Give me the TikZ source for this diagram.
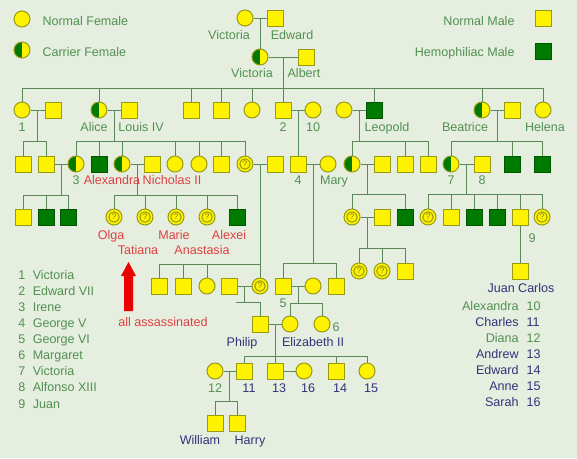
\documentclass[tikz,border=0pt]{standalone}
\usepackage{fontspec}
\setmainfont{Liberation Sans}
\usetikzlibrary{calc}

\definecolor{bgcol}{RGB}{230,238,224}
\definecolor{linecol}{RGB}{90,135,90}
\definecolor{edgecol}{RGB}{150,155,20}
\definecolor{hemocol}{RGB}{0,122,0}
\definecolor{txtgreen}{RGB}{80,145,80}
\definecolor{txtred}{RGB}{220,65,65}
\definecolor{txtnavy}{RGB}{50,50,120}
\definecolor{arrowred}{RGB}{235,0,0}

\tikzset{
  fem/.style={circle, draw=edgecol, fill=yellow, minimum size=12pt, inner sep=0pt},
  male/.style={rectangle, draw=edgecol, fill=yellow, minimum size=12pt, inner sep=0pt},
  hemo/.style={male, draw=hemocol!70!black, fill=hemocol},
  carrier/.style={fem, path picture={\fill[hemocol] (path picture bounding box.south west) rectangle (path picture bounding box.north);}},
  unk/.style={fem, font=\fontsize{6}{6}\selectfont, text=edgecol!80!black,
    path picture={\draw[edgecol] (path picture bounding box.center) circle (3.9pt);}},
  lbl/.style={inner sep=0pt, text height=6.8pt, text depth=0pt, text=txtgreen},
  redlbl/.style={lbl, text=txtred},
  navylbl/.style={lbl, text=txtnavy},
  link/.style={draw=linecol}
}

\begin{document}
\begin{tikzpicture}[x=0.75pt, y=-0.75pt, line width=0.75pt, font=\fontsize{9.4}{12.1}\selectfont]
      \fill[bgcol] (0,0) rectangle (577,458); % background

      % legend
      \node[fem] (lgfem) at (22,19) {};
            \node[lbl, anchor=west] (lgfemtxt) at (42,21) {Normal Female};
      \node[carrier] (lgcar) at (22,50) {};
            \node[lbl, anchor=west] (lgcartxt) at (42,52) {Carrier Female};
      \node[male] (lgmale) at (543,18) {};
            \node[lbl, anchor=east] (lgmaletxt) at (515,21) {Normal Male};
      \node[hemo] (lghemo) at (543,51) {};
            \node[lbl, anchor=east] (lghemotxt) at (515,52) {Hemophiliac Male};

      % Victoria's parents and Victoria and Albert
      \node[fem] (vic0) at (245,18) {};
            \node[lbl] (lvic0) at (229,35) {Victoria};
      \node[male] (edw) at (275,18) {};
            \node[lbl] (ledw) at (292,35) {Edward};
      \node[carrier] (vic1) at (260,57) {};
            \node[lbl] (lvic1) at (252,73) {Victoria};
      \node[male] (alb) at (306,57) {};
            \node[lbl] (lalb) at (304,73) {Albert};

      % their children and the people they married
      \node[fem] (d1) at (22,110) {};
            \node[lbl] (ld1) at (22,127) {1};
      \node[male] (d1h) at (53,110) {};
      \node[carrier] (alice) at (99,110) {};
            \node[lbl] (lalice) at (94,127) {Alice};
      \node[male] (louis) at (129,110) {};
            \node[lbl] (llouis) at (141,127) {Louis IV};
      \node[male] (s3) at (191,110) {};
      \node[male] (s4) at (221,110) {};
      \node[fem] (d5) at (252,110) {};
      \node[male] (ed7) at (283,110) {};
            \node[lbl] (led7) at (283,127) {2};
      \node[fem] (alx10) at (313,110) {};
            \node[lbl] (lalx10) at (313,127) {10};
      \node[fem] (leow) at (344,110) {};
      \node[hemo] (leo) at (374,110) {};
            \node[lbl] (lleo) at (387,127) {Leopold};
      \node[carrier] (bea) at (482,110) {};
            \node[lbl] (lbea) at (465,127) {Beatrice};
      \node[male] (beah) at (512,110) {};
      \node[fem] (hel) at (543,110) {};
            \node[lbl] (lhel) at (545,127) {Helena};

      % grandchildren
      \node[male] (g1) at (23,164) {};
      \node[male] (g2) at (46,164) {};
      \node[carrier] (irene) at (76,164) {};
            \node[lbl] (lirene) at (76,180) {3};
      \node[hemo] (fried) at (99,164) {};
      \node[carrier] (alexandra) at (122,164) {};
            \node[redlbl] (lalexandra) at (112,180) {Alexandra};
      \node[male] (nich) at (152,164) {};
            \node[redlbl] (lnich) at (172,180) {Nicholas II};
      \node[fem] (a5) at (175,164) {};
      \node[fem] (a6) at (199,164) {};
      \node[male] (a7) at (221,164) {};
      \node[unk] (vhes) at (245,164) {?};
      \node[male] (lbat) at (275,164) {};
      \node[male] (geo5) at (298,164) {};
            \node[lbl] (lgeo5) at (298,180) {4};
      \node[fem] (mary) at (328,164) {};
            \node[lbl] (lmary) at (334,180) {Mary};
      \node[carrier] (alicea) at (352,164) {};
      \node[male] (alath) at (382,164) {};
      \node[male] (l2) at (405,164) {};
      \node[male] (l3) at (428,164) {};
      \node[carrier] (vicena) at (451,164) {};
            \node[lbl] (lvicena) at (451,180) {7};
      \node[male] (alf) at (482,164) {};
            \node[lbl] (lalf) at (482,180) {8};
      \node[hemo] (b2) at (512,164) {};
      \node[hemo] (b3) at (542,164) {};

      % great-grandchildren
      \node[male] (h1) at (23,217) {};
      \node[hemo] (h2) at (46,217) {};
      \node[hemo] (h3) at (68,217) {};
      \node[unk] (olga) at (114,217) {?};
            \node[redlbl] (lolga) at (111,235) {Olga};
      \node[unk] (tat) at (145,217) {?};
            \node[redlbl] (ltat) at (138,250) {Tatiana};
      \node[unk] (marie) at (176,217) {?};
            \node[redlbl] (lmarie) at (174,235) {Marie};
      \node[unk] (anast) at (207,217) {?};
            \node[redlbl] (lanast) at (202,250) {Anastasia};
      \node[hemo] (alexei) at (237,217) {};
            \node[redlbl] (lalexei) at (229,235) {Alexei};
      \node[unk] (sib) at (352,217) {?};
      \node[male] (sibh) at (382,217) {};
      \node[hemo] (rup) at (405,217) {};
      \node[unk] (e1) at (428,217) {?};
      \node[male] (e2) at (451,217) {};
      \node[hemo] (e3) at (474,217) {};
      \node[hemo] (e4) at (497,217) {};
      \node[male] (juan) at (520,217) {};
            \node[lbl] (ljuan) at (532,238) {9};
      \node[unk] (e6) at (542,217) {?};

      \node[unk] (k1) at (359,271) {?};
      \node[unk] (k2) at (382,271) {?};
      \node[male] (k3) at (405,271) {};
      \node[male] (jc) at (520,271) {};
            \node[navylbl] (ljc) at (521,288) {Juan Carlos};

      \node[male] (p1) at (159,286) {};
      \node[male] (p2) at (183,286) {};
      \node[fem] (p3) at (207,286) {};
      \node[male] (andrew) at (229,286) {};
      \node[unk] (alib) at (260,286) {?};
      \node[male] (geo6) at (283,286) {};
            \node[lbl] (lgeo6) at (283,303) {5};
      \node[fem] (eliz) at (313,286) {};
      \node[male] (hen) at (336,286) {};

      % Philip and Elizabeth II
      \node[male] (philip) at (260,324) {};
            \node[navylbl] (lphilip) at (242,342) {Philip};
      \node[fem] (eliz2) at (290,324) {};
            \node[navylbl] (leliz2) at (313,342) {Elizabeth II};
      \node[fem] (marg) at (322,324) {};
            \node[lbl] (lmarg) at (336,327) {6};

      \node[fem] (diana) at (215,371) {};
            \node[lbl] (ldiana) at (215,388) {12};
      \node[male] (charles) at (244,371) {};
            \node[navylbl] (lcharles) at (249,388) {11};
      \node[male] (andr) at (275,371) {};
            \node[navylbl] (landr) at (279,388) {13};
      \node[fem] (sarah) at (304,371) {};
            \node[navylbl] (lsarah) at (308,388) {16};
      \node[male] (edwd) at (336,371) {};
            \node[navylbl] (ledwd) at (340,388) {14};
      \node[fem] (anne) at (367,371) {};
            \node[navylbl] (lanne) at (371,388) {15};

      \node[male] (will) at (215,423) {};
            \node[navylbl] (lwill) at (200,440) {William};
      \node[male] (harry) at (237,423) {};
            \node[navylbl] (lharry) at (250,440) {Harry};

      % marriages
      \foreach \a/\b in {vic0/edw, vic1/alb, d1/d1h, alice/louis, ed7/alx10, leow/leo, bea/beah,
                         g2/irene, alexandra/nich, vhes/lbat, geo5/mary, alicea/alath, vicena/alf,
                         sib/sibh, andrew/alib, geo6/eliz, philip/eliz2, diana/charles, andr/sarah}
            \draw[link] (\a) -- (\b);

      % lines of descent
      \coordinate (mv0) at ($(vic0)!.5!(edw)$);
      \draw[link] (mv0) -- (vic1);
      \coordinate (med7) at ($(ed7)!.5!(alx10)$);
      \draw[link] (med7) -- (geo5);
      \draw[link] (juan) -- (jc);

      \coordinate (mva) at ($(vic1)!.5!(alb)$); \coordinate (bva) at (0,88);
      \draw[link] (mva) -- (mva |- bva);
      \foreach \k in {d1,alice,s3,s4,d5,ed7,leo,bea,hel} \draw[link] (\k) |- (mva |- bva);

      \coordinate (md1) at ($(d1)!.5!(d1h)$); \coordinate (bd1) at (0,141);
      \draw[link] (md1) -- (md1 |- bd1);
      \foreach \k in {g1,g2} \draw[link] (\k) |- (md1 |- bd1);

      \coordinate (mal) at ($(alice)!.5!(louis)$);
      \draw[link] (mal) -- (mal |- bd1);
      \foreach \k in {irene,fried,alexandra,a5,a6,a7,vhes} \draw[link] (\k) |- (mal |- bd1);

      \coordinate (mleo) at ($(leow)!.5!(leo)$);
      \draw[link] (mleo) -- (mleo |- bd1);
      \foreach \k in {alicea,l2,l3} \draw[link] (\k) |- (mleo |- bd1);

      \coordinate (mbea) at ($(bea)!.5!(beah)$);
      \draw[link] (mbea) -- (mbea |- bd1);
      \foreach \k in {vicena,b2,b3} \draw[link] (\k) |- (mbea |- bd1);

      \coordinate (mir) at ($(g2)!.5!(irene)$); \coordinate (bir) at (0,195);
      \draw[link] (mir) -- (mir |- bir);
      \foreach \k in {h1,h2,h3} \draw[link] (\k) |- (mir |- bir);

      \coordinate (mni) at ($(alexandra)!.5!(nich)$);
      \draw[link] (mni) -- (mni |- bir);
      \foreach \k in {olga,tat,marie,anast,alexei} \draw[link] (\k) |- (mni |- bir);

      \coordinate (mala) at ($(alicea)!.5!(alath)$); \coordinate (bala) at (0,194);
      \draw[link] (mala) -- (mala |- bala);
      \foreach \k in {sib,rup} \draw[link] (\k) |- (mala |- bala);

      \coordinate (mvic) at ($(vicena)!.5!(alf)$);
      \draw[link] (mvic) -- (mvic |- bala);
      \foreach \k in {e1,e2,e3,e4,juan,e6} \draw[link] (\k) |- (mvic |- bala);

      \coordinate (msib) at ($(sib)!.5!(sibh)$); \coordinate (bsib) at (0,248);
      \draw[link] (msib) -- (msib |- bsib);
      \foreach \k in {k1,k2,k3} \draw[link] (\k) |- (msib |- bsib);

      \coordinate (mvh) at ($(vhes)!.5!(lbat)$); \coordinate (bvh) at (0,264);
      \draw[link] (mvh) -- (mvh |- bvh);
      \foreach \k in {p1,p2,p3,alib} \draw[link] (\k) |- (mvh |- bvh);

      \coordinate (mgeo) at ($(geo5)!.5!(mary)$); \coordinate (bgeo) at (0,263);
      \draw[link] (mgeo) -- (mgeo |- bgeo);
      \foreach \k in {geo6,hen} \draw[link] (\k) |- (mgeo |- bgeo);

      \coordinate (mand) at ($(andrew)!.5!(alib)$); \coordinate (pstub) at (236,302);
      \draw[link] (mand) -- (mand |- pstub);
      \draw[link] (philip) |- (pstub); % Philip

      \coordinate (mg6) at ($(geo6)!.5!(eliz)$); \coordinate (bg6) at (0,303);
      \draw[link] (mg6) -- (mg6 |- bg6);
      \foreach \k in {eliz2,marg} \draw[link] (\k) |- (mg6 |- bg6);

      \coordinate (mph) at ($(philip)!.5!(eliz2)$); \coordinate (bph) at (0,356);
      \draw[link] (mph) -- (mph |- bph);
      \foreach \k in {charles,andr,edwd,anne} \draw[link] (\k) |- (mph |- bph);

      \coordinate (mch) at ($(diana)!.5!(charles)$); \coordinate (bch) at (0,401);
      \draw[link] (mch) -- (mch |- bch);
      \foreach \k in {will,harry} \draw[link] (\k) |- (mch |- bch);

      % red arrow and note
      \fill[arrowred] (124,311) -- (124,276) -- (121,276) -- (128.5,262) -- (136,276) -- (133,276) -- (133,311) -- cycle;
      \node[redlbl] (assas) at (163,322) {all assassinated};

      % number keys
      \node[anchor=north west, inner sep=0pt, text=txtgreen] (leftkey) at (18,267.2)
            {\begin{tabular}{@{}r@{\hspace{5.5pt}}l@{}}1&Victoria\\2&Edward VII\\3&Irene\\4&George V\\5&George VI\\6&Margaret\\7&Victoria\\8&Alfonso XIII\\9&Juan\end{tabular}};
      \node[anchor=north east, inner sep=0pt, text=txtnavy] (rightkey) at (541,298.2)
            {\begin{tabular}{@{}r@{\hspace{6pt}}l@{}}\textcolor{txtgreen}{Alexandra}&\textcolor{txtgreen}{10}\\Charles&11\\\textcolor{txtgreen}{Diana}&\textcolor{txtgreen}{12}\\Andrew&13\\Edward&14\\Anne&15\\Sarah&16\end{tabular}};
\end{tikzpicture}
\end{document}
